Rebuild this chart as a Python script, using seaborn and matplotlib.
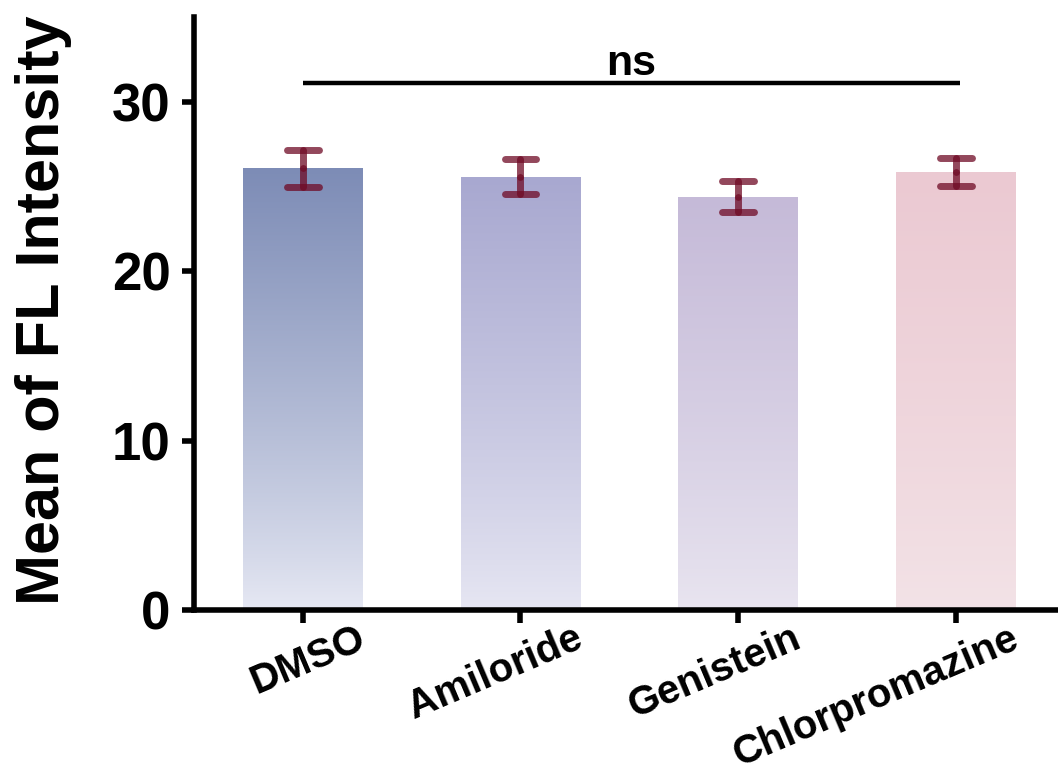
import numpy as np
import pandas as pd
import matplotlib
matplotlib.use('Agg')
import matplotlib.pyplot as plt
import matplotlib.transforms as mtrans
from matplotlib.colors import to_rgb
import seaborn as sns

# ---- data ----
categories = ['DMSO', 'Amiloride', 'Genistein', 'Chlorpromazine']
means = [26.07, 25.58, 24.40, 25.84]
errors = [1.08, 1.02, 0.92, 0.81]
top_colors = ['#7d8cb6', '#a8a8d0', '#c5bad8', '#ebc9d2']
bottom_colors = ['#e7e9f4', '#e7e7f3', '#e9e5f0', '#f3e3e7']
yticks = [0, 10, 20, 30]
sig_label = 'ns'
sig_y = 31.08
sig_span = [0.0, 3.02]
ylabel = 'Mean of FL Intensity'

sns.set_theme(style='ticks')
plt.rcParams['font.family'] = ['Liberation Sans', 'DejaVu Sans']
plt.rcParams['font.weight'] = 'bold'

fig = plt.figure(figsize=(10.58, 7.80), dpi=100)
ax = fig.add_axes([194 / 1058, 170 / 780, 864 / 1058, 593 / 780])

df = pd.DataFrame({'cat': categories, 'mean': means})
sns.barplot(data=df, x='cat', y='mean', hue='cat', palette=top_colors,
            width=0.55, errorbar=None, legend=False, saturation=1, ax=ax)

# vertical gradient fill for each bar
for patch, c_top, c_bot in zip(ax.patches, top_colors, bottom_colors):
    x0, y0 = patch.get_x(), patch.get_y()
    w, h = patch.get_width(), patch.get_height()
    t = np.linspace(0, 1, 256)[:, None, None]
    ct, cb = np.array(to_rgb(c_top)), np.array(to_rgb(c_bot))
    grad = cb + (ct - cb) * t ** 0.85
    im = ax.imshow(grad, extent=[x0, x0 + w, y0, y0 + h], origin='lower',
                   aspect='auto', zorder=patch.get_zorder(), interpolation='bilinear')
    im.set_clip_path(patch)
    patch.set_facecolor('none')
    patch.set_edgecolor('none')

# error bars (semi-transparent, round caps)
eb_color = '#6f0a25'
eb_alpha = 0.75
cap_half = 0.073
for i, (m, e) in enumerate(zip(means, errors)):
    kw = dict(color=eb_color, alpha=eb_alpha, lw=5, solid_capstyle='round', zorder=5)
    ax.plot([i, i], [m, m + e], **kw)
    ax.plot([i, i], [m, m - e], **kw)
    ax.plot([i - cap_half, i + cap_half], [m + e, m + e], **kw)
    ax.plot([i - cap_half, i + cap_half], [m - e, m - e], **kw)

# significance line
ax.plot(sig_span, [sig_y, sig_y], color='black', lw=3.2, solid_capstyle='butt', zorder=6)
ax.text(sum(sig_span) / 2, sig_y + 0.5, sig_label, ha='center', va='baseline',
        fontsize=31, fontweight='bold', color='black')

ax.set_xlim(-0.5, 3.47)
ax.set_ylim(0, 35)
ax.set_yticks(yticks)
ax.set_xticks(range(len(categories)))
ax.set_xticklabels(categories)
ax.set_xlabel('')
ax.set_ylabel(ylabel, fontsize=44, fontweight='bold', color='black')
ax.yaxis.set_label_coords(-0.141, 0.505)

sns.despine(ax=ax)
for s in ['left', 'bottom']:
    ax.spines[s].set_linewidth(4)
    ax.spines[s].set_color('black')
    ax.spines[s].set_capstyle('projecting')

ax.tick_params(axis='both', width=4, length=9, color='black', direction='out')
ax.tick_params(axis='y', labelsize=38, pad=8.0, labelcolor='black')
ax.tick_params(axis='x', labelsize=29, pad=-2.5, labelcolor='black')

offset = mtrans.ScaledTranslation(68 / 100, 0, fig.dpi_scale_trans)
for lab in ax.get_xticklabels():
    lab.set_rotation(23)
    lab.set_ha('right')
    lab.set_va('top')
    lab.set_fontweight('bold')
    lab.set_transform(lab.get_transform() + offset)
for lab in ax.get_yticklabels():
    lab.set_fontweight('bold')

fig.savefig('out.png', dpi=100)
